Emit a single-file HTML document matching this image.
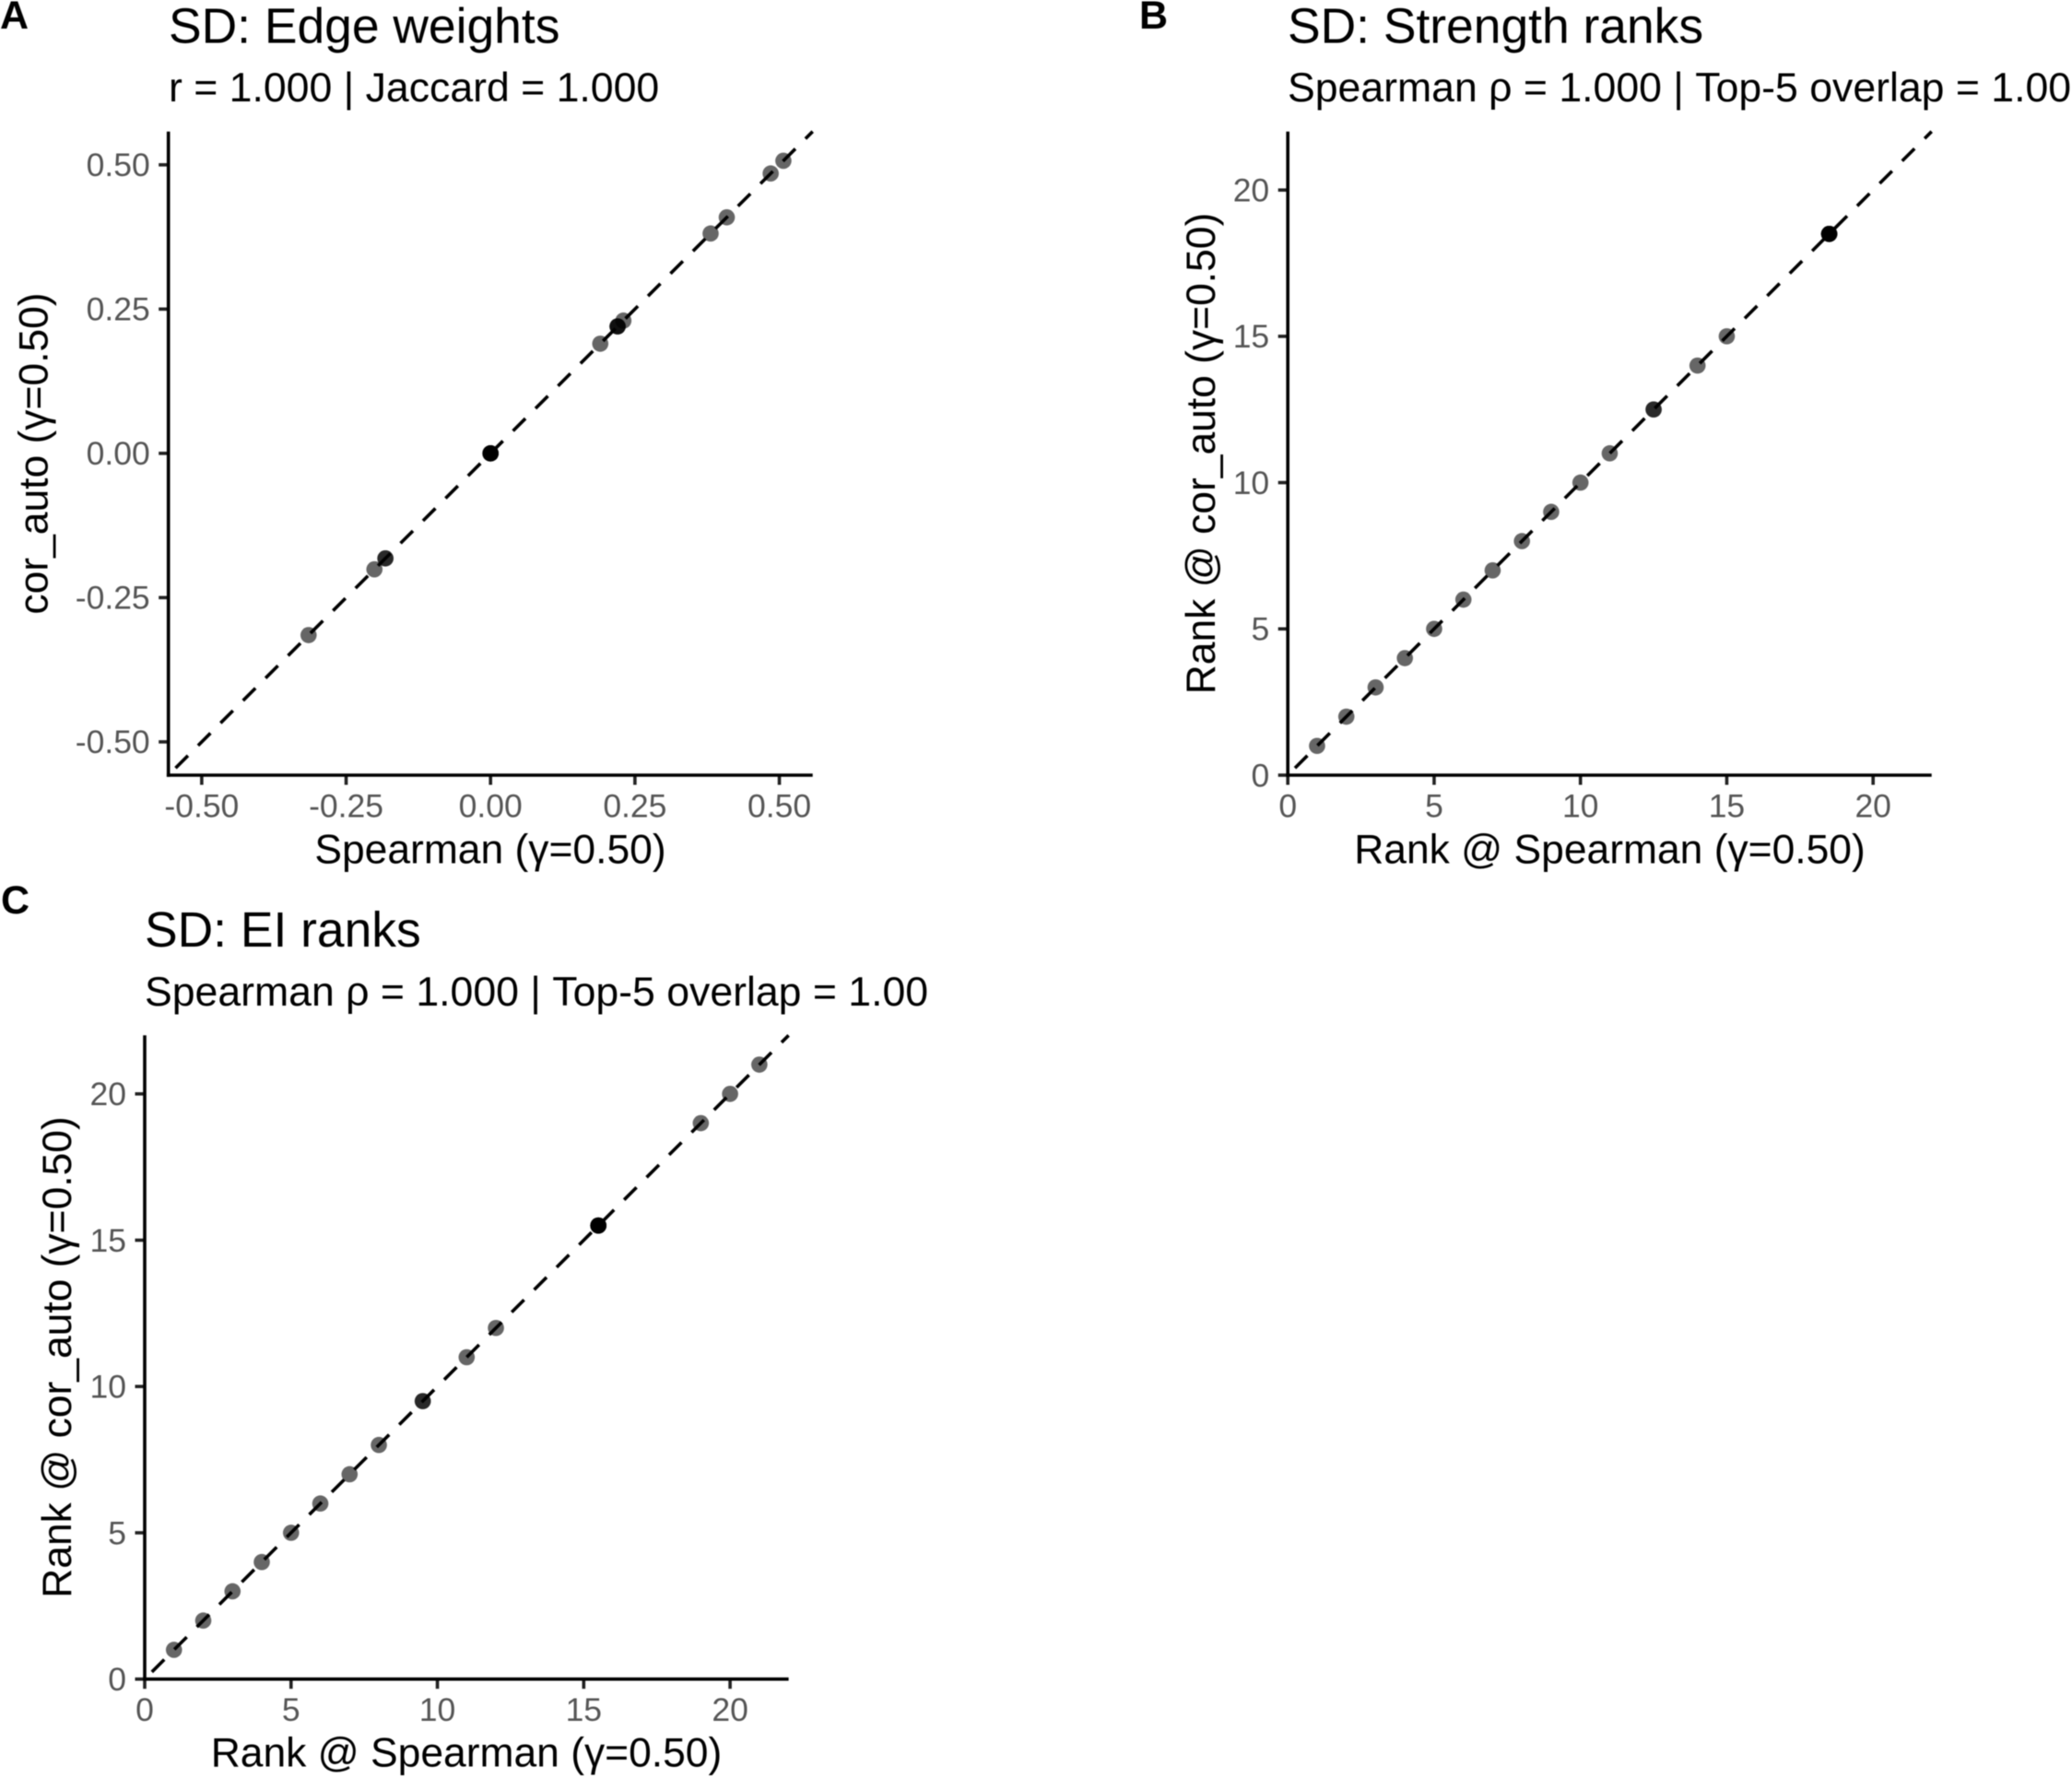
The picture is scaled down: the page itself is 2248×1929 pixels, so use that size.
<!DOCTYPE html>
<html lang="en">
<head>
<meta charset="utf-8">
<title>SD network comparison</title>
<style>
html,body{margin:0;padding:0;background:#fff;}
svg{display:block;font-family:"Liberation Sans",sans-serif;filter:blur(0.5px);}
.title{font-size:53.4px;fill:#000;}
.sub{font-size:44.6px;fill:#000;}
.axt{font-size:44.4px;fill:#000;}
.tick{font-size:35.5px;fill:#555;}
.tag{font-size:43px;font-weight:bold;fill:#000;}
</style>
</head>
<body>
<svg id="fig" width="2248" height="1929" viewBox="0 0 2248 1929" xmlns="http://www.w3.org/2000/svg">
<rect x="0" y="0" width="2248" height="1929" fill="#fff"/>
<text class="tag" x="0" y="31">A</text>
<text class="tag" x="1236" y="31">B</text>
<text class="tag" x="1" y="991">C</text>

<text class="title" x="183" y="46.5">SD: Edge weights</text>
<text class="sub" x="183" y="110">r = 1.000 | Jaccard = 1.000</text>
<text class="axt" x="532" y="936.5" text-anchor="middle">Spearman (γ=0.50)</text>
<text class="axt" transform="translate(51.5 492) rotate(-90)" text-anchor="middle">cor_auto (γ=0.50)</text>

<text class="title" x="1397" y="46.5">SD: Strength ranks</text>
<text class="sub" x="1397" y="110">Spearman ρ = 1.000 | Top-5 overlap = 1.00</text>
<text class="axt" x="1746.5" y="936.5" text-anchor="middle">Rank @ Spearman (γ=0.50)</text>
<text class="axt" transform="translate(1318 492) rotate(-90)" text-anchor="middle">Rank @ cor_auto (γ=0.50)</text>

<text class="title" x="157" y="1027">SD: EI ranks</text>
<text class="sub" x="157" y="1091">Spearman ρ = 1.000 | Top-5 overlap = 1.00</text>
<text class="axt" x="506" y="1916.5" text-anchor="middle">Rank @ Spearman (γ=0.50)</text>
<text class="axt" transform="translate(77 1472.5) rotate(-90)" text-anchor="middle">Rank @ cor_auto (γ=0.50)</text>
</svg>
<script>
const edgeTicks = [-0.5, -0.25, 0, 0.25, 0.5];
const edgeTickLabels = ["-0.50", "-0.25", "0.00", "0.25", "0.50"];
const rankTicks = [0, 5, 10, 15, 20];
const rankTickLabels = ["0", "5", "10", "15", "20"];

const edgeSpearman = [-0.315, -0.201, -0.182, -0.182, 0, 0, 0, 0, 0, 0, 0.19, 0.22, 0.22, 0.22, 0.23, 0.381, 0.409, 0.485, 0.507];
const edgeCorAuto = [-0.315, -0.201, -0.182, -0.182, 0, 0, 0, 0, 0, 0, 0.19, 0.22, 0.22, 0.22, 0.23, 0.381, 0.409, 0.485, 0.507];

const strengthSpearman = [1, 2, 3, 4, 5, 6, 7, 8, 9, 10, 11, 12.5, 12.5, 14, 15, 18.5, 18.5, 18.5, 18.5, 18.5, 18.5];
const strengthCorAuto = [1, 2, 3, 4, 5, 6, 7, 8, 9, 10, 11, 12.5, 12.5, 14, 15, 18.5, 18.5, 18.5, 18.5, 18.5, 18.5];

const eiSpearman = [1, 2, 3, 4, 5, 6, 7, 8, 9.5, 9.5, 11, 12, 15.5, 15.5, 15.5, 15.5, 15.5, 15.5, 19, 20, 21];
const eiCorAuto = [1, 2, 3, 4, 5, 6, 7, 8, 9.5, 9.5, 11, 12, 15.5, 15.5, 15.5, 15.5, 15.5, 15.5, 19, 20, 21];

const edgeDomain = [-0.5577, 0.5577];
const rankDomain = [0, 22];

const NS = 'http://www.w3.org/2000/svg';
const fig = document.getElementById('fig');

function svgEl(tag, parent) {
  const el = document.createElementNS(NS, tag);
  parent.appendChild(el);
  return el;
}

function linear(domain, range) {
  return function (v) {
    return range[0] + (v - domain[0]) / (domain[1] - domain[0]) * (range[1] - range[0]);
  };
}

function drawPanel(prefix, box, domain, ticks, tickLabels, xs, ys) {
  const sx = linear(domain, [box.left, box.right]);
  const sy = linear(domain, [box.bottom, box.top]);

  const group = svgEl('g', fig);
  
  

  const ref = svgEl('line', group);
  
  
  ref.setAttribute('x1', sx(domain[0]));
  ref.setAttribute('y1', sy(domain[0]));
  ref.setAttribute('x2', sx(domain[1]));
  ref.setAttribute('y2', sy(domain[1]));
  ref.setAttribute('stroke', '#000');
  ref.setAttribute('stroke-width', '3.6');
  ref.setAttribute('stroke-dasharray', '19 15.5');
  ref.setAttribute('stroke-dashoffset', '23.5');

  xs.forEach(function (x, i) {
    const pt = svgEl('circle', group);
    
    
    pt.setAttribute('cx', sx(x));
    pt.setAttribute('cy', sy(ys[i]));
    pt.setAttribute('r', '8.8');
    pt.setAttribute('fill', '#000');
    pt.setAttribute('fill-opacity', '0.6');
  });

  ticks.forEach(function (t, i) {
    const xt = svgEl('line', group);
    
    
    xt.setAttribute('x1', sx(t));
    xt.setAttribute('x2', sx(t));
    xt.setAttribute('y1', box.bottom);
    xt.setAttribute('y2', box.bottom + 10.5);
    xt.setAttribute('stroke', '#222');
    xt.setAttribute('stroke-width', '3.6');

    const xl = svgEl('text', group);
    
    
    xl.setAttribute('class', 'tick');
    xl.setAttribute('x', sx(t));
    xl.setAttribute('y', box.bottom + 45.5);
    xl.setAttribute('text-anchor', 'middle');
    xl.textContent = tickLabels[i];

    const yt = svgEl('line', group);
    
    
    yt.setAttribute('x1', box.left - 10.5);
    yt.setAttribute('x2', box.left);
    yt.setAttribute('y1', sy(t));
    yt.setAttribute('y2', sy(t));
    yt.setAttribute('stroke', '#222');
    yt.setAttribute('stroke-width', '3.6');

    const yl = svgEl('text', group);
    
    
    yl.setAttribute('class', 'tick');
    yl.setAttribute('x', box.left - 20);
    yl.setAttribute('y', sy(t) + 12.3);
    yl.setAttribute('text-anchor', 'end');
    yl.textContent = tickLabels[i];
  });

  const xAxis = svgEl('line', group);
  
  
  xAxis.setAttribute('x1', box.left - 1.8);
  xAxis.setAttribute('x2', box.right);
  xAxis.setAttribute('y1', box.bottom);
  xAxis.setAttribute('y2', box.bottom);
  xAxis.setAttribute('stroke', '#000');
  xAxis.setAttribute('stroke-width', '3.6');

  const yAxis = svgEl('line', group);
  
  
  yAxis.setAttribute('x1', box.left);
  yAxis.setAttribute('x2', box.left);
  yAxis.setAttribute('y1', box.top);
  yAxis.setAttribute('y2', box.bottom + 1.8);
  yAxis.setAttribute('stroke', '#000');
  yAxis.setAttribute('stroke-width', '3.6');
}

drawPanel('edge-weights', {left: 182.7, right: 881.7, top: 142.7, bottom: 841}, edgeDomain, edgeTicks, edgeTickLabels, edgeSpearman, edgeCorAuto);
drawPanel('strength-ranks', {left: 1397.2, right: 2095.7, top: 142.7, bottom: 841}, rankDomain, rankTicks, rankTickLabels, strengthSpearman, strengthCorAuto);
drawPanel('ei-ranks', {left: 157, right: 855.6, top: 1123.3, bottom: 1821.7}, rankDomain, rankTicks, rankTickLabels, eiSpearman, eiCorAuto);
</script>
</body>
</html>
